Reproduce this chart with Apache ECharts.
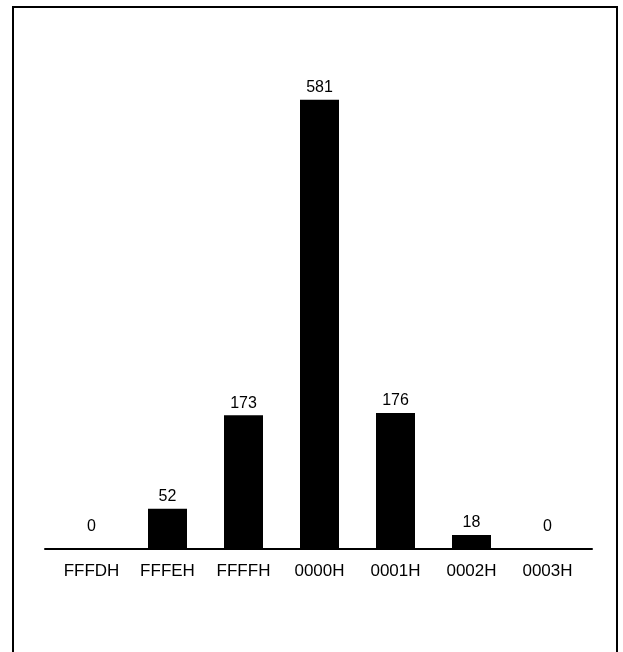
<!DOCTYPE html>
<html>
<head>
<meta charset="utf-8">
<script src="https://cdn.jsdelivr.net/npm/echarts@6/dist/echarts.min.js"></script>
<style>
html,body{margin:0;padding:0;background:#fff;}
#c{width:623px;height:652px;}
</style>
</head>
<body>
<div id="c"></div>
<script>
const categories = ['FFFDH','FFFEH','FFFFH','0000H','0001H','0002H','0003H'];
const counts = [0, 52, 173, 581, 176, 18, 0];

const chart = echarts.init(document.getElementById('c'), null, {renderer:'canvas'});
const font = 'Liberation Sans, Arial, sans-serif';

const barData = counts.map(v => v === 0
  ? {value: v, label: {distance: 14}}
  : {value: v});

chart.setOption({
  animation: false,
  backgroundColor: '#fff',
  grid: [
    {left: 53.5, width: 532, top: 85, bottom: 103},
    {left: 45, width: 547, top: 85, bottom: 103}
  ],
  xAxis: [
    {
      type: 'category', gridIndex: 0, data: categories,
      axisLine: {show: false},
      axisTick: {show: false},
      axisLabel: {color: '#000', fontFamily: font, fontSize: 17, margin: 14}
    },
    {
      type: 'value', gridIndex: 1, min: 0, max: 1,
      axisLine: {show: true, lineStyle: {color: '#000', width: 2}},
      axisTick: {show: false}, axisLabel: {show: false}, splitLine: {show: false}
    }
  ],
  yAxis: [
    {type: 'value', gridIndex: 0, min: 0, max: 600, show: false, splitLine: {show: false}},
    {type: 'value', gridIndex: 1, min: 0, max: 600, show: false, splitLine: {show: false}}
  ],
  series: [{
    type: 'bar', xAxisIndex: 0, yAxisIndex: 0,
    data: barData, barWidth: 39,
    itemStyle: {color: '#000'},
    label: {show: true, position: 'top', distance: 4, color: '#000', fontFamily: font, fontSize: 16}
  }],
  graphic: [{
    type: 'rect', silent: true,
    shape: {x: 13, y: 7, width: 604, height: 700},
    style: {fill: 'none', stroke: '#000', lineWidth: 2}
  }]
});
</script>
</body>
</html>
